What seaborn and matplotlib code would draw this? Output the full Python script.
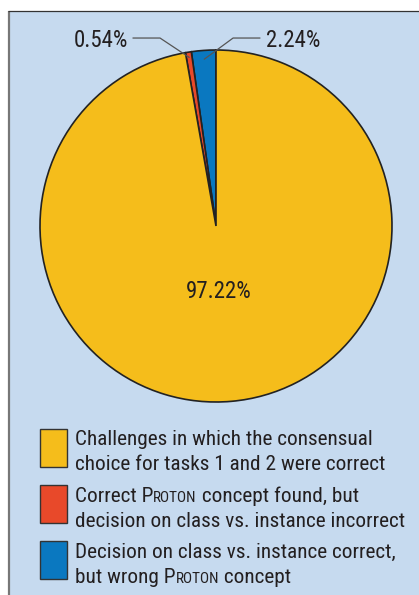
"""
Pie chart: outcome of challenges (Proton concepts)
"""
import numpy as np
import matplotlib
matplotlib.use("Agg")
import matplotlib.pyplot as plt
import matplotlib.patches as mpatches
import seaborn as sns

# Data
shares = [2.24, 0.54, 97.22]          # blue, red, yellow (counter-clockwise from 12 o'clock)
colors = ["#0a78c0", "#e8492a", "#f5bd1b"]
pct_labels = ["2.24%", "0.54%", "97.22%"]

# legend lines; "{P}" marks the small-caps word Proton
legend_lines = [
    ["Challenges in which the consensual", "choice for tasks 1 and 2 were correct"],
    ["Correct {P} concept found, but", "decision on class vs. instance incorrect"],
    ["Decision on class vs. instance correct,", "but wrong {P} concept"],
]
legend_colors = [colors[2], colors[1], colors[0]]

BG = "#c6daef"
TXT = "#231f20"
W, H = 419, 595

sns.set_theme(style="white")
plt.rcParams["font.family"] = ["Roboto Condensed", "DejaVu Sans"]

fig = plt.figure(figsize=(W / 100, H / 100), dpi=100)
fig.patch.set_facecolor("white")

# overlay in pixel coords (y down)
ov = fig.add_axes([0, 0, 1, 1])
ov.set_xlim(0, W)
ov.set_ylim(H, 0)
ov.axis("off")
ov.add_patch(mpatches.Rectangle((8, 11), W - 8, H - 11, facecolor=BG, edgecolor="none", zorder=0))
ov.plot([8.5, 8.5], [11, H], color="#777777", lw=1.6, solid_capstyle="butt", zorder=1)
ov.plot([8, W], [11.3, 11.3], color="#333333", lw=0.9, solid_capstyle="butt", zorder=1)

# pie axes: centre (216, 226) px, radius 176 px
cx, cy, r = 216, 226, 176
ax = fig.add_axes([(cx - r) / W, (H - cy - r) / H, 2 * r / W, 2 * r / H])
wedges, _ = ax.pie(shares, colors=colors, startangle=90, counterclock=True,
                   wedgeprops=dict(edgecolor="#222222", linewidth=1.2))
ax.set_xlim(-1, 1)
ax.set_ylim(-1, 1)
ax.set_facecolor("none")

FS = 15.3
FS_PCT = 16.5
# leader anchors from wedge mid-angles
def anchor(w, rad):
    a = np.deg2rad((w.theta1 + w.theta2) / 2)
    return rad * np.cos(a), rad * np.sin(a)

bx, by = anchor(wedges[0], 0.95)
rx, ry = anchor(wedges[1], 0.97)
ax.plot([-0.472, -0.318, rx], [1.068, 1.068, ry], color="#555555", lw=0.9, clip_on=False)
ax.plot([0.25, 0.097, bx], [1.068, 1.068, by], color="#555555", lw=0.9, clip_on=False)
ax.text(-0.5, 1.017, pct_labels[1], ha="right", va="baseline", fontsize=FS_PCT, color=TXT, clip_on=False)
ax.text(0.284, 1.017, pct_labels[0], ha="left", va="baseline", fontsize=FS_PCT, color=TXT, clip_on=False)
ax.text(0.017, -0.409, pct_labels[2], ha="center", va="baseline", fontsize=FS_PCT, color=TXT)

# legend
renderer = fig.canvas.get_renderer()
inv = ov.transData.inverted()

def draw_line(x, y, s):
    if "{P}" in s:
        a, b = s.split("{P}")
        parts = [(a + "P", FS), ("ROTON", FS * 0.72), (b, FS)]
    else:
        parts = [(s, FS)]
    for txt, size in parts:
        if not txt:
            continue
        t = ov.text(x, y, txt, ha="left", va="baseline", fontsize=size, color=TXT)
        bb = t.get_window_extent(renderer)
        x = inv.transform((bb.x1, bb.y0))[0]

patch_tops = [429, 485, 541]
baselines = [(445, 470), (502, 527), (558, 583)]
for top, col, lines, bls in zip(patch_tops, legend_colors, legend_lines, baselines):
    ov.add_patch(mpatches.Rectangle((40, top), 27, 38, facecolor=col,
                                    edgecolor="#333333", lw=1.0, zorder=2))
    for s, yb in zip(lines, bls):
        draw_line(75, yb, s)

fig.savefig("out.png", dpi=100)
